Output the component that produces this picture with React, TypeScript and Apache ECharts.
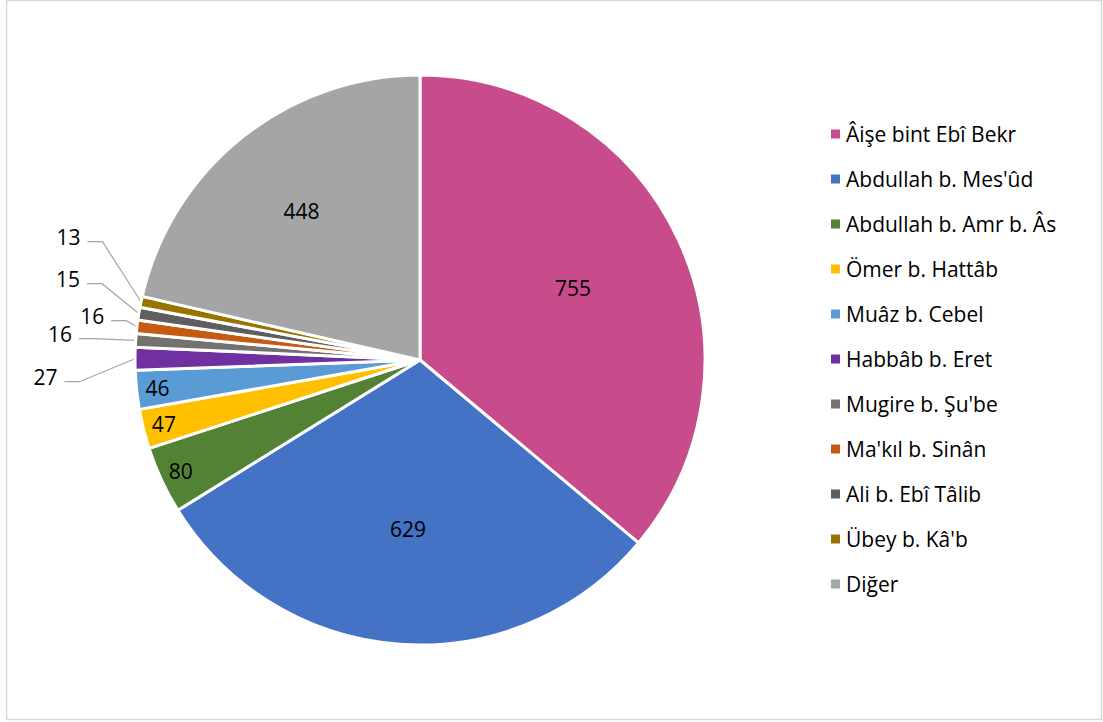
import React, { useEffect, useRef } from "react";
import * as echarts from "echarts";

const names = [
  "Âişe bint Ebî Bekr",
  "Abdullah b. Mes'ûd",
  "Abdullah b. Amr b. Âs",
  "Ömer b. Hattâb",
  "Muâz b. Cebel",
  "Habbâb b. Eret",
  "Mugire b. Şu'be",
  "Ma'kıl b. Sinân",
  "Ali b. Ebî Tâlib",
  "Übey b. Kâ'b",
  "Diğer",
];
const values = [755, 629, 80, 47, 46, 27, 16, 16, 15, 13, 448];
const colors = [
  "#C84B8C",
  "#4472C4",
  "#548235",
  "#FFC000",
  "#5B9BD5",
  "#7030A0",
  "#767171",
  "#C55A11",
  "#5E5E5E",
  "#997300",
  "#A5A5A5",
];
// which labels go where
const bigInside = [0, 1];
const otherInside = [10];
const edgeInside = [2, 3, 4];
const outside = [5, 6, 7, 8, 9];
// nudges of the outside labels (layout only), keyed by data index
const outsideNudge: Record<number, [number, number]> = {
  5: [-44, -13],
  6: [-28, -33],
  7: [4, -28],
  8: [-21, -42],
  9: [-22, -61],
};

const FONT = "'Open Sans', 'Noto Sans', sans-serif";

export default function App() {
  const ref = useRef<HTMLDivElement>(null);
  useEffect(() => {
    const chart = echarts.init(ref.current!, null, { renderer: "svg" });
    const center = [420, 360];
    const R = 285;
    const mkOverlay = (idx: number[], labelDist: number) => ({
      type: "pie",
      center,
      radius: [0, labelDist * 2],
      startAngle: 90,
      clockwise: true,
      silent: true,
      avoidLabelOverlap: false,
      emphasis: { disabled: true },
      legendHoverLink: false,
      z: 5,
      itemStyle: { color: "rgba(0,0,0,0)", borderWidth: 0 },
      labelLine: { show: false },
      data: names.map((n, i) => ({
        name: n,
        value: values[i],
        label: {
          show: idx.includes(i),
          position: "inside",
          formatter: "{c}",
          color: "#000",
          fontSize: 21,
          fontFamily: FONT,
        },
      })),
    });
    chart.setOption({
      animation: false,
      backgroundColor: "#fff",
      color: colors,
      graphic: [
        {
          type: "rect",
          shape: { x: 6.5, y: 0.5, width: 1095, height: 719 },
          style: { fill: "none", stroke: "#d9d9d9", lineWidth: 1.5 },
          silent: true,
        },
      ],
      legend: {
        orient: "vertical",
        left: 829,
        top: 122,
        padding: 0,
        itemWidth: 11,
        itemHeight: 11,
        itemGap: 21,
        icon: "rect",
        data: names,
        textStyle: {
          fontSize: 21,
          lineHeight: 24,
          fontFamily: FONT,
          color: "#000",
        },
      },
      series: [
        {
          type: "pie",
          center,
          radius: [0, R],
          startAngle: 90,
          clockwise: true,
          avoidLabelOverlap: true,
          itemStyle: { borderColor: "#fff", borderWidth: 3 },
          label: {
            position: "outside",
            formatter: "{c}",
            color: "#000",
            fontSize: 21,
            fontFamily: FONT,
            alignTo: "none",
            distanceToLabelLine: 4,
          },
          labelLine: {
            length: 20,
            length2: 15,
            lineStyle: { color: "#a6a6a6", width: 1.2 },
          },
          labelLayout: (params: any) => {
            const nudge = outsideNudge[params.dataIndex];
            if (!nudge || !params.labelLinePoints) return {};
            const [dx, dy] = nudge;
            const r = params.labelRect;
            const right = r.x + r.width + dx;
            const cy = r.y + r.height / 2 + dy + 5;
            const p0 = params.labelLinePoints[0];
            return {
              dx,
              dy,
              labelLinePoints: [
                [p0[0], p0[1]],
                [right + 22, cy],
                [right + 7, cy],
              ],
            };
          },
          data: names.map((n, i) => ({
            name: n,
            value: values[i],
            label: { show: outside.includes(i) },
            labelLine: { show: outside.includes(i) },
          })),
        },
        mkOverlay(bigInside, 166),
        mkOverlay(otherInside, 187),
        mkOverlay(edgeInside, 261),
      ],
    });
    return () => chart.dispose();
  }, []);
  return (
    <div
      ref={ref}
      style={{ position: "fixed", left: 0, top: 0, width: 1103, height: 722 }}
    />
  );
}
